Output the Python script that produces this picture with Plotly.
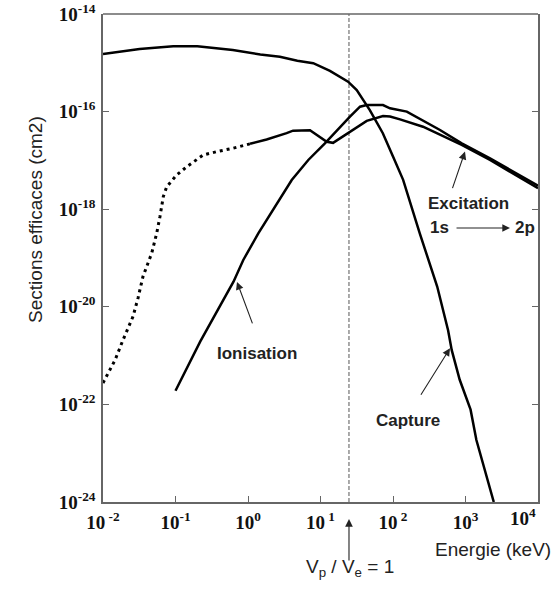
import plotly.graph_objects as go

# ---- data (energy in keV, cross sections in cm2) ----
capture_E = [0.01, 0.032, 0.093, 0.2, 0.617, 1.48, 2.75, 4.79, 7.94, 13.5, 24, 31.6,
             47.9, 72.4, 100, 138, 234, 407, 575, 646, 832, 1175, 1413, 2455]
capture_sigma = [1.51e-15, 1.91e-15, 2.19e-15, 2.19e-15, 1.82e-15, 1.48e-15, 1.33e-15,
                 1.10e-15, 9.8e-16, 6.8e-16, 4.1e-16, 2.75e-16, 1.07e-16, 3.6e-17,
                 1.2e-17, 4.0e-18, 3.2e-19, 2.6e-20, 3.3e-21, 1.29e-21, 3.2e-22,
                 7.8e-23, 1.86e-23, 1.0e-24]

ionisation_E = [0.1, 0.219, 0.631, 0.861, 1.387, 2.355, 4.01, 6.79, 11.5, 25.5, 35.1, 43.4,
                72.8, 91.0, 125, 155, 445, 887, 2178, 6209, 10000]
ionisation_sigma = [1.91e-22, 1.93e-21, 3.27e-20, 9.1e-20, 3.2e-19, 1.12e-18, 3.96e-18,
                    1.02e-17, 2.24e-17, 7.85e-17, 1.26e-16, 1.36e-16, 1.36e-16, 1.17e-16,
                    1.05e-16, 1.0e-16, 4.2e-17, 2.24e-17, 1.10e-17, 4.63e-18, 3.02e-18]

excitation_dot_E = [0.01, 0.01466, 0.01888, 0.02594, 0.0304, 0.0356, 0.047, 0.0551,
                    0.0611, 0.0679, 0.0757, 0.1035, 0.1426, 0.2415, 0.37, 0.627, 1.067]
excitation_dot_sigma = [2.75e-22, 8.1e-22, 2.09e-21, 6.3e-21, 1.51e-20, 4.17e-20,
                        1.26e-19, 3.24e-19, 7.08e-19, 1.82e-18, 2.88e-18, 5.0e-18,
                        7.4e-18, 1.29e-17, 1.51e-17, 1.78e-17, 2.19e-17]

excitation_E = [1.067, 1.807, 3.41, 4.18, 7.16, 12.2, 14.9, 25.5, 43.4, 72.8, 91.0,
                125, 259, 887, 2178, 10000]
excitation_sigma = [2.19e-17, 2.69e-17, 3.63e-17, 4.07e-17, 4.17e-17, 2.4e-17, 2.29e-17,
                    3.89e-17, 6.46e-17, 8.13e-17, 7.94e-17, 6.92e-17, 4.9e-17, 2.09e-17,
                    1.02e-17, 2.69e-18]

vp_ve_E = [24.7, 24.7]
vp_ve_sigma = [1e-24, 1e-14]

x_tickvals = [1e-2, 1e-1, 1e0, 1e1, 1e2, 1e3, 1e4]
x_ticktext = ["<b>10<sup> -2</sup></b>", "<b>10<sup>-1</sup></b>", "<b>10<sup>0</sup></b>",
              "<b>10<sup> 1</sup></b>", "<b>10<sup> 2</sup></b>", "<b>10<sup>3</sup></b>",
              ""]
x_last_label = "<b>10<sup>4</sup></b>"
y_tickvals = [1e-14, 1e-16, 1e-18, 1e-20, 1e-22, 1e-24]
y_ticktext = ["<b>10<sup>-14</sup></b>", "<b>10<sup>-16</sup></b>", "<b>10<sup>-18</sup></b>",
              "<b>10<sup>-20</sup></b>", "<b>10<sup>-22</sup></b>", "<b>10<sup>-24</sup></b>"]

LINE = dict(color="black", width=2.5)

fig = go.Figure()
fig.add_trace(go.Scatter(x=vp_ve_E, y=vp_ve_sigma, mode="lines",
                         line=dict(color="#555", width=1, dash="4px,2px"), hoverinfo="skip"))
fig.add_trace(go.Scatter(x=capture_E, y=capture_sigma, mode="lines", line=LINE))
fig.add_trace(go.Scatter(x=ionisation_E, y=ionisation_sigma, mode="lines", line=LINE))
fig.add_trace(go.Scatter(x=excitation_dot_E, y=excitation_dot_sigma, mode="lines",
                         line=dict(color="black", width=3, dash="3px,4px")))
fig.add_trace(go.Scatter(x=excitation_E, y=excitation_sigma, mode="lines", line=LINE))

tickfont = dict(family="Liberation Serif", size=19, color="#111")
axis_common = dict(showline=True, linecolor="#666", linewidth=1.5, ticks="inside",
                   ticklen=6, tickcolor="#666", showgrid=False, zeroline=False,
                   automargin=False, ticklabeloverflow="allow", tickfont=tickfont)

fig.update_xaxes(type="log", range=[-2, 4], tickvals=x_tickvals, ticktext=x_ticktext,
                 mirror=False, ticklabelstandoff=2, **axis_common)
fig.update_yaxes(type="log", range=[-24, -14], tickvals=y_tickvals, ticktext=y_ticktext,
                 mirror="ticks", ticklabelstandoff=2, **axis_common)

# top border (no ticks)
fig.add_shape(type="line", xref="paper", yref="paper", x0=0, x1=1, y0=1, y1=1,
              line=dict(color="#666", width=1.5))

lab = dict(family="Liberation Sans", size=17, color="#222")
ttl = dict(family="Liberation Sans", size=19, color="#222")
arrow = dict(showarrow=True, arrowhead=2, arrowsize=1.4, arrowwidth=1.1, arrowcolor="#222", text="")

annots = [
    # last x tick label, pulled inside the figure as in the original
    dict(x=1.0, y=-0.031, xref="paper", yref="paper", text=x_last_label, showarrow=False,
         font=tickfont, xanchor="right", yanchor="middle"),
    # labels
    dict(x=0.12, y=-20.95, xref="x", yref="y", text="<b>Ionisation</b>", showarrow=False, font=lab),
    dict(x=3.039, y=-17.89, xref="x", yref="y", text="<b>Excitation</b>", showarrow=False, font=lab),
    dict(x=2.648, y=-18.385, xref="x", yref="y", text="<b>1s</b>", showarrow=False, font=lab),
    dict(x=3.814, y=-18.385, xref="x", yref="y", text="<b>2p</b>", showarrow=False, font=lab),
    dict(x=2.2, y=-22.32, xref="x", yref="y", text="<b>Capture</b>", showarrow=False, font=lab),
    dict(x=1.0345, y=-0.123, xref="paper", yref="paper", text="Energie (keV)", showarrow=False,
         font=ttl, xanchor="right"),
    dict(x=1.40, y=-0.164, xref="x", yref="paper", text="V<sub>p</sub> / V<sub>e</sub> = 1",
         showarrow=False, font=ttl),
    dict(x=-0.184, y=0.579, xref="paper", yref="paper", text="Sections efficaces (cm2)",
         showarrow=False, font=ttl, textangle=-90),
    # arrows
    dict(x=-0.152, y=-19.49, xref="x", yref="y", ax=16, ay=43, **arrow),
    dict(x=2.993, y=-16.82, xref="x", yref="y", ax=-13, ay=38, **arrow),
    dict(x=2.786, y=-20.85, xref="x", yref="y", ax=-30, ay=48, **arrow),
    dict(x=3.614, y=-18.385, xref="x", yref="y", ax=-55, ay=0, **arrow),
    dict(x=1.393, y=-0.035, xref="x", yref="paper", ax=0, ay=43, **arrow),
]
fig.update_layout(annotations=annots)

fig.update_layout(width=559, height=602, margin=dict(l=103, r=21, t=14, b=100),
                  paper_bgcolor="white", plot_bgcolor="white", showlegend=False,
                  hovermode=False)

fig.write_html("out.html", config={"displayModeBar": False},
               post_script="document.body.style.margin='0px';document.body.style.overflow='hidden';")
